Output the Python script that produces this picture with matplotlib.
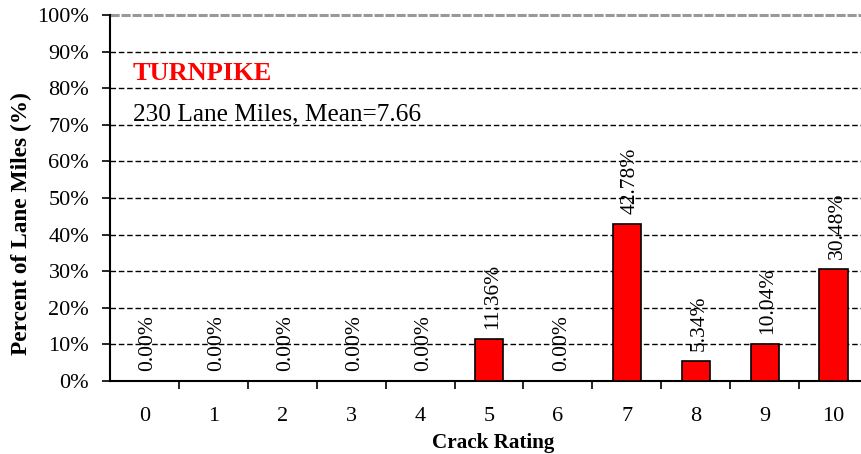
import numpy as np
import matplotlib.pyplot as plt
from matplotlib.ticker import FixedLocator

# ===================== DATOS =====================
ratings = [0, 1, 2, 3, 4, 5, 6, 7, 8, 9, 10]
percent = [0.00, 0.00, 0.00, 0.00, 0.00, 11.36, 0.00, 42.78, 5.34, 10.04, 30.48]
y_ticks = [0, 10, 20, 30, 40, 50, 60, 70, 80, 90, 100]
title_txt = "TURNPIKE"
info_txt = "230 Lane Miles, Mean=7.66"

plt.rcParams['font.family'] = ['Liberation Serif', 'DejaVu Serif']

fig = plt.figure(figsize=(8.61, 4.54), dpi=100)
ax = fig.add_axes([110 / 861, 1 - 381 / 454, 758 / 861, 366 / 454])

x = np.arange(len(ratings))
ax.bar(x, percent, width=0.41, color="#ff0000", edgecolor="black", linewidth=1.2, zorder=3)

# etiquetas de valor
for xi, v in zip(x, percent):
    ax.annotate(f"{v:.2f}%", (xi, v), xytext=(2.5, 7.5), textcoords="offset points",
                rotation=90, ha="center", va="bottom", fontsize=15.5, zorder=4)

ax.set_xlim(-0.5, len(ratings) - 0.5)
ax.set_ylim(0, 100)

# rejilla
for yv in y_ticks[1:-1]:
    ax.axhline(yv, color="black", linewidth=1.0, linestyle=(0, (4, 2)), zorder=1)
ax.axhline(100, color="#999999", linewidth=2.2, linestyle=(0, (3, 0.6)), zorder=1, clip_on=False)

ax.set_yticks(y_ticks)
ax.set_yticklabels([f"{t}%" for t in y_ticks], fontsize=16)
ax.tick_params(axis="y", direction="out", length=6, width=1.2, pad=9)

# marcas del eje x entre categorías, etiquetas al centro
ax.set_xticks(x)
ax.set_xticklabels([str(r) for r in ratings], fontsize=16)
ax.tick_params(axis="x", which="major", length=0, pad=19)
ax.xaxis.set_minor_locator(FixedLocator(np.arange(0.5, len(ratings) - 1, 1.0)))
ax.tick_params(axis="x", which="minor", direction="out", length=6, width=1.2)

for s in ["top", "right"]:
    ax.spines[s].set_visible(False)
ax.spines["left"].set_linewidth(1.5)
ax.spines["bottom"].set_linewidth(1.5)

ax.set_ylabel("Percent of Lane Miles (%)", fontsize=16.8, fontweight="bold")
ax.yaxis.set_label_coords(-0.103, 0.43)
ax.set_xlabel("Crack Rating", fontsize=15.2, fontweight="bold")
ax.xaxis.set_label_coords(0.505, -0.141)

fig.text(133 / 861, 1 - 80 / 454, title_txt, color="#ff0000", fontsize=19,
         fontweight="bold", va="baseline", ha="left")
fig.text(133 / 861, 1 - 120 / 454, info_txt, color="black", fontsize=18.3,
         va="baseline", ha="left")

fig.savefig("out.png", dpi=100)
